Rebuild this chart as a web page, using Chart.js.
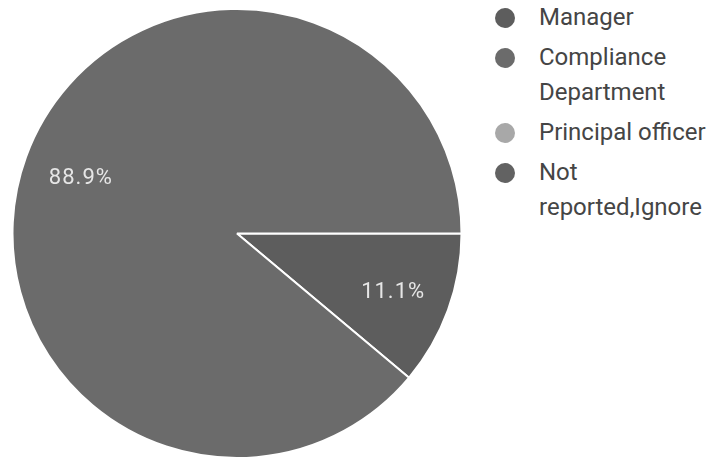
<!DOCTYPE html>
<html>
<head>
<meta charset="utf-8">
<script src="https://cdn.jsdelivr.net/npm/chart.js@4"></script>
<style>
    html, body { margin: 0; padding: 0; background: #fff; }
    #wrap { position: relative; width: 718px; height: 459px; overflow: hidden; }
    #pieBox { position: absolute; left: 0; top: 0; width: 474px; height: 459px; }
    #leyenda { position: absolute; left: 494px; top: 0; font-family: Roboto, 'Noto Sans', sans-serif; font-size: 24px; color: #454545; white-space: nowrap; }
    .item { position: relative; padding-left: 45px; line-height: 35px; margin-bottom: 5px; }
    .dot { position: absolute; left: 1px; top: 0; width: 20px; height: 20px; border-radius: 50%; margin-top: 8px; }
</style>
</head>
<body>
<div id="wrap">
    <div id="pieBox"><canvas id="graficoReporte"></canvas></div>
    <div id="leyenda"></div>
</div>
<script>
const categorias = ['Manager', 'Compliance Department', 'Principal officer', 'Not reported,Ignore'];
// lineas de la leyenda (los nombres largos van en dos renglones)
const etiquetasLeyenda = [['Manager'], ['Compliance', 'Department'], ['Principal officer'], ['Not', 'reported,Ignore']];
const porcentajes = [11.1, 88.9, 0, 0];
const colores = ['#5d5d5d', '#6b6b6b', '#a8a8a8', '#626262'];

// leyenda a la derecha
const leyenda = document.getElementById('leyenda');
etiquetasLeyenda.forEach((lineas, i) => {
    const item = document.createElement('div');
    item.className = 'item';
    item.innerHTML = `<span class="dot" style="background: ${colores[i]};"></span>${lineas.join('<br>')}`;
    leyenda.appendChild(item);
});

// porcentaje dentro de cada rebanada
const etiquetasPorcentaje = {
    id: 'etiquetasPorcentaje',
    afterDatasetsDraw(chart) {
        const { ctx } = chart;
        const meta = chart.getDatasetMeta(0);
        ctx.save();
        ctx.font = '22px Roboto, sans-serif';
        ctx.letterSpacing = '1px';
        ctx.fillStyle = '#e6e6e6';
        ctx.textAlign = 'center';
        ctx.textBaseline = 'middle';
        meta.data.forEach((arc, i) => {
            const valor = porcentajes[i];
            if (!valor) return;
            const { x, y, startAngle, endAngle, outerRadius } = arc.getProps(['x', 'y', 'startAngle', 'endAngle', 'outerRadius'], true);
            const medio = (startAngle + endAngle) / 2;
            const r = outerRadius * 0.74;
            ctx.fillText(valor.toFixed(1) + '%', x + Math.cos(medio) * r, y + Math.sin(medio) * r + 2);
        });
        ctx.restore();
    }
};

new Chart(document.getElementById('graficoReporte'), {
    type: 'pie',
    data: {
        labels: categorias,
        datasets: [{
            data: porcentajes,
            backgroundColor: colores,
            borderColor: '#fff',
            borderWidth: 2
        }]
    },
    options: {
        responsive: true,
        maintainAspectRatio: false,
        animation: false,
        rotation: 90,
        layout: { padding: { left: 11, right: 11, top: 8, bottom: 0 } },
        plugins: {
            legend: { display: false },
            tooltip: { enabled: false }
        }
    },
    plugins: [etiquetasPorcentaje]
});
</script>
</body>
</html>
